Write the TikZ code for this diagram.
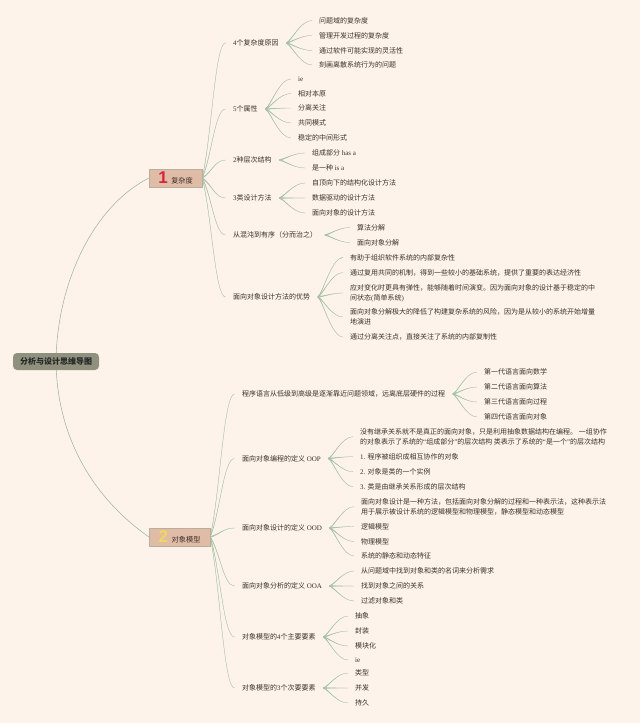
\documentclass[tikz,border=0pt]{standalone}
\usepackage{fontspec}
\setmainfont{Noto Sans CJK SC}
\newfontfamily\latf{Liberation Serif}
\newfontfamily\digf{Liberation Sans}
\newcommand{\lat}[1]{{\latf #1}}
\usetikzlibrary{backgrounds,calc}
\definecolor{pagebg}{HTML}{FDF3EA}
\definecolor{inkc}{HTML}{3A312C}
\definecolor{linkc}{HTML}{A8C2A8}
\definecolor{rootc}{HTML}{8F917E}
\definecolor{topicc}{HTML}{E0BBA5}
\definecolor{topicb}{HTML}{B9B09C}
\definecolor{redd}{HTML}{D9223F}
\definecolor{yell}{HTML}{F0D85C}
\tikzset{
  txt/.style={font=\fontsize{7}{10}\selectfont, text=inkc, align=left, anchor=west, inner ysep=0pt},
  leaf/.style={txt, inner xsep=7pt},
  sub/.style={txt, inner xsep=7.5pt},
  rootnode/.style={fill=rootc, rounded corners=4pt, minimum width=86pt, minimum height=17pt, inner sep=0pt, font=\fontsize{8}{10}\selectfont\bfseries, text=black!85},
  topic/.style={fill=topicc, draw=topicb, line width=0.7pt, minimum height=18pt, inner sep=0pt, anchor=west, font=\fontsize{7.2}{10}\selectfont, text=inkc},
  brlink/.default=0.3,
  brlink/.style={draw=linkc, fill=linkc, line width=0.3pt, line join=round, to path={
    let \p1=(\tikztostart), \p2=(\tikztotarget) in
    (\x1,{\y1-0.5pt})
    .. controls ({\x1+(#1+0.1)*(\x2-\x1)},{\y1+#1*(\y2-\y1)-0.25pt}) and ({\x1+0.55*(\x2-\x1)},\y2) .. (\tikztotarget)
    .. controls ({\x1+0.55*(\x2-\x1)},\y2) and ({\x1+(#1+0.1)*(\x2-\x1)},{\y1+#1*(\y2-\y1)+0.25pt}) .. (\x1,{\y1+0.5pt}) -- cycle}},
  rootlink/.style={draw=linkc!80!gray, line width=0.55pt}
}
\newcommand{\dgt}[2]{\textcolor{#1}{\digf\bfseries\fontsize{17}{17}\selectfont #2}\hspace{3.5pt}}
\begin{document}
\begin{tikzpicture}[x=1pt,y=-1pt]
\useasboundingbox (0,0) rectangle (640,723);
% central and main topics
\node[rootnode] (root) at (56,361.5) {分析与设计思维导图};
\node[topic, minimum width=52.5pt] (n1) at (149,178) {\dgt{redd}{1}复杂度};
\node[topic, minimum width=60.5pt] (n2) at (149,537) {\dgt{yell}{2}对象模型};
% first-level branches, part 1
\node[sub] (a1) at (225.5,43) {\lat{4}个复杂度原因};
\node[sub] (a2) at (225.5,109) {\lat{5}个属性};
\node[sub] (a3) at (225.5,160) {\lat{2}种层次结构};
\node[sub] (a4) at (225.5,198) {\lat{3}类设计方法};
\node[sub] (a5) at (225.5,235) {从混沌到有序（分而治之）};
\node[sub] (a6) at (225.5,297) {面向对象设计方法的优势};
% leaves
\node[leaf] (a1a) at (312,20.5) {问题域的复杂度};
\node[leaf] (a1b) at (312,35.5) {管理开发过程的复杂度};
\node[leaf] (a1c) at (312,50.5) {通过软件可能实现的灵活性};
\node[leaf] (a1d) at (312,65) {刻画离散系统行为的问题};
\node[leaf] (a2a) at (291,79) {\lat{ie}};
\node[leaf] (a2b) at (291,93.5) {相对本原};
\node[leaf] (a2c) at (291,108) {分离关注};
\node[leaf] (a2d) at (291,123) {共同模式};
\node[leaf] (a2e) at (291,138) {稳定的中间形式};
\node[leaf] (a3a) at (305,153) {组成部分 \lat{has a}};
\node[leaf] (a3b) at (305,168) {是一种 \lat{is a}};
\node[leaf] (a4a) at (305,183) {自顶向下的结构化设计方法};
\node[leaf] (a4b) at (305,198) {数据驱动的设计方法};
\node[leaf] (a4c) at (305,213) {面向对象的设计方法};
\node[leaf] (a5a) at (350,227.5) {算法分解};
\node[leaf] (a5b) at (350,242.5) {面向对象分解};
\node[leaf] (a6a) at (343,257.5) {有助于组织软件系统的内部复杂性};
\node[leaf] (a6b) at (343,272.5) {通过复用共同的机制，得到一些较小的基础系统，提供了重要的表达经济性};
\node[leaf] (a6c) at (343,293) {应对变化时更具有弹性，能够随着时间演变。因为面向对象的设计基于稳定的中\\间状态\lat{(}简单系统\lat{)}};
\node[leaf] (a6d) at (343,317) {面向对象分解极大的降低了构建复杂系统的风险，因为是从较小的系统开始增量\\地演进};
\node[leaf] (a6e) at (343,337) {通过分离关注点，直接关注了系统的内部复制性};
% first-level branches, part 2
\node[sub] (b1) at (234.5,394) {程序语言从低级到高级是逐渐靠近问题领域，远离底层硬件的过程};
\node[sub] (b2) at (234.5,458.5) {面向对象编程的定义 \lat{OOP}};
\node[sub] (b3) at (234.5,528) {面向对象设计的定义 \lat{OOD}};
\node[sub] (b4) at (234.5,586) {面向对象分析的定义 \lat{OOA}};
\node[sub] (b5) at (234.5,637) {对象模型的\lat{4}个主要要素};
\node[sub] (b6) at (234.5,688) {对象模型的\lat{3}个次要要素};
\node[leaf] (b1a) at (477,372) {第一代语言面向数学};
\node[leaf] (b1b) at (477,387) {第二代语言面向算法};
\node[leaf] (b1c) at (477,402) {第三代语言面向过程};
\node[leaf] (b1d) at (477,417) {第四代语言面向对象};
\node[leaf] (b2a) at (353,436.7) {没有继承关系就不是真正的面向对象，只是利用抽象数据结构在编程。 一组协作\\的对象表示了系统的\lat{“}组成部分\lat{”}的层次结构 类表示了系统的\lat{“}是一个\lat{”}的层次结构};
\node[leaf] (b2b) at (353,456.7) {\lat{1.} 程序被组织成相互协作的对象};
\node[leaf] (b2c) at (353,471.7) {\lat{2.} 对象是类的一个实例};
\node[leaf] (b2d) at (353,486.7) {\lat{3.} 类是由继承关系形成的层次结构};
\node[leaf] (b3a) at (354,506.7) {面向对象设计是一种方法，包括面向对象分解的过程和一种表示法，这种表示法\\用于展示被设计系统的逻辑模型和物理模型，静态模型和动态模型};
\node[leaf] (b3b) at (354,526.5) {逻辑模型};
\node[leaf] (b3c) at (354,541.5) {物理模型};
\node[leaf] (b3d) at (354,556) {系统的静态和动态特征};
\node[leaf] (b4a) at (354,571) {从问题域中找到对象和类的名词来分析需求};
\node[leaf] (b4b) at (354,586) {找到对象之间的关系};
\node[leaf] (b4c) at (354,601) {过滤对象和类};
\node[leaf] (b5a) at (348,616) {抽象};
\node[leaf] (b5b) at (348,631) {封装};
\node[leaf] (b5c) at (348,646) {模块化};
\node[leaf] (b5d) at (348,660) {\lat{ie}};
\node[leaf] (b6a) at (348,673) {类型};
\node[leaf] (b6b) at (348,688) {并发};
\node[leaf] (b6c) at (348,703) {持久};
\begin{scope}[on background layer]
\fill[pagebg] (0,0) rectangle (640,723);
\draw[rootlink] (root.center) .. controls +(1,-81) and +(-54,27) .. (n1.west);
\draw[rootlink] (root.center) .. controls +(1,79) and +(-53,-37) .. (n2.west);
\foreach \t in {a1,a2,a3,a4,a5,a6} \draw[brlink] (n1.east) to (\t.west);
\foreach \t in {b1,b2,b3,b4,b5,b6} \draw[brlink] (n2.east) to (\t.west);
\foreach \s/\ll in {a1/{a,b,c,d},a2/{a,b,c,d,e},a3/{a,b},a4/{a,b,c},a5/{a,b},a6/{a,b,c,d,e},
                    b1/{a,b,c,d},b2/{a,b,c,d},b3/{a,b,c,d},b4/{a,b,c},b5/{a,b,c,d},b6/{a,b,c}}
  \foreach \q in \ll \draw[brlink=0.1] (\s.east) to (\s\q.west);
\end{scope}
\end{tikzpicture}
\end{document}
